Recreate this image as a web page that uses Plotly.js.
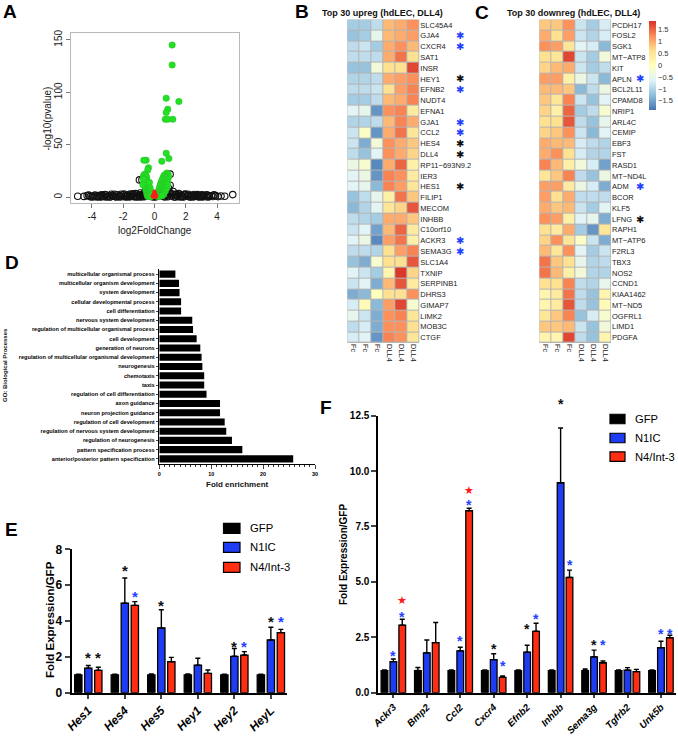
<!DOCTYPE html>
<html><head><meta charset="utf-8">
<script src="https://cdn.plot.ly/plotly-3.0.1.min.js"></script>
<style>html,body{margin:0;padding:0;background:#fff}</style>
</head><body><div id="chart" style="width:678px;height:736px"></div>
<script>
// ---------------- DATA ----------------
// Panel A: volcano plot
const volBlackX = [-4.9,-4.5,-4.3,-4.12,-3.95,-3.85,-3.7,-3.6,-3.5,-3.4,
  -3.3,-3.2,-3.1,-3.0,-2.9,-2.8,-2.7,-2.6,-2.5,-2.4,
  -2.3,-2.2,-2.1,-2.0,-1.9,-1.8,-1.7,-1.6,-1.5,-1.4,
  -1.3,-1.2,-1.1,-1.0,-0.9,-0.8,-0.7,-0.6,-0.5,-0.4,
  -0.3,-0.2,-0.1,0.0,0.1,0.2,0.3,0.4,0.5,0.6,
  0.7,0.8,0.9,1.0,1.1,1.2,1.3,1.4,1.5,1.6,
  1.7,1.8,1.9,2.0,2.1,2.2,2.3,2.4,2.5,2.6,
  2.7,2.8,2.9,3.0,3.1,3.2,3.3,3.4,3.5,3.62,
  3.74,3.9,4.06,4.25,4.49,5.0,-0.96,-0.8,1.0,-0.55,
  -3.65,-3.05,-2.45,-1.85,-1.25,-0.65,-0.15,0.15,0.65,1.25,
  1.85,2.45,3.05,-2.75,-2.15,-1.55,-0.95,0.35,0.95,1.55,
  2.15,2.75,3.35,-3.35,-0.45,0.45,-0.25,0.25,0.75,1.15,
  -4.0,-3.8,-3.45,-3.15,-2.85,-2.55,-2.25,-1.95,-1.65,-1.35,
  -1.05,-0.75,-0.35,-0.05,0.05,0.55,0.85,1.05,1.35,1.65,
  1.95,2.25,2.55,2.85,3.15,3.45,3.8,-4.2,-2.65,2.65,
  -1.75,-1.15,-0.85,1.75,2.35,2.95,-0.7,0.8,1.45,-1.45];
const volBlackY = [1.0,0.8,1.5,0.6,1.2,0.5,1.4,0.7,1.8,0.6,
  1.3,0.5,2.0,0.8,1.2,0.4,1.8,1.0,0.6,2.2,
  0.9,1.6,0.5,2.4,1.1,0.7,2.0,1.3,0.6,2.6,
  1.0,3.4,0.7,2.2,4.0,1.5,3.2,5.0,2.0,6.0,
  1.2,0.8,0.4,0.3,0.5,0.9,1.4,5.5,2.0,4.2,
  1.6,3.0,8.5,11.4,1.2,5.5,2.4,3.0,0.8,2.8,
  1.4,0.6,2.1,2.5,0.9,1.6,0.5,2.0,1.1,0.7,
  1.7,0.6,1.2,2.3,0.8,1.4,0.5,1.6,0.9,1.3,
  0.7,1.5,0.6,1.2,0.9,2.5,16.5,16.5,22.0,8.0,
  0.2,0.3,0.2,0.3,0.2,0.4,2.5,2.5,0.3,0.2,
  0.2,0.3,0.2,2.8,2.9,3.0,1.0,7.0,5.0,3.4,
  2.8,2.5,2.2,2.3,10.0,9.0,4.0,3.5,6.5,3.0,
  0.3,2.0,0.3,2.6,0.2,2.9,0.2,3.0,0.3,3.2,
  0.3,2.5,3.0,1.5,1.5,1.0,0.4,3.0,0.3,0.3,
  3.0,0.2,2.6,0.3,2.0,0.2,2.2,2.0,1.5,1.5,
  1.0,1.2,0.3,1.1,1.2,1.0,1.0,1.2,1.8,1.8];
const volGreenX = [1.13,1.13,0.75,1.56,0.85,0.75,0.69,0.85,1.17,0.75,0.92,0.47,-0.53,-0.68,-0.38,-0.43,
  -0.72,-0.68,-0.62,-0.55,-0.5,-0.66,-0.58,-0.48,-0.42,-0.62,-0.52,-0.45,-0.38,-0.6,-0.5,-0.42,-0.34,-0.55,-0.46,-0.38,-0.3,-0.5,-0.42,-0.34,-0.26,-0.46,-0.38,-0.3,-0.22,-0.18,-0.42,-0.34,-0.26,-0.7,-0.74,-0.32,-0.28,-0.24,-0.2,-0.16,
  0.72,0.8,0.88,0.62,0.78,0.9,0.56,0.7,0.84,0.5,0.64,0.78,0.45,0.58,0.72,0.4,0.52,0.66,0.36,0.48,0.6,0.32,0.44,0.56,0.28,0.4,0.5,0.24,0.34,0.46,0.2,0.3,0.4,0.16,0.26,0.36,0.13,0.22,0.32,0.85,0.8,0.7,0.6,0.5];
const volGreenY = [145,126,94.4,91.2,83.9,80.7,74.3,74.3,74.3,41.9,36.8,34.3,35.3,35.3,28.2,26,
  19,21,22,21,19,16,17,16,14,13,13,11,11,10,9,8,8,7,6,5.5,5,4,3.5,3,3,2,1.5,1.5,1.5,1,0.8,0.6,0.5,17,12,14,9,6,4,2.5,
  22,23,22,21,20,19,19,18,17,17,16,15,15,14,13,13,12,11,11,10,9,9,8,7,7,6,5,5,4.5,3.5,3.5,3,2.2,2.2,1.6,1.2,1.2,0.8,0.6,12,9,6,3,1.5];
const volRedX = [-0.1,-0.05,0,0.05,0.1,-0.08,0,0.08,-0.04,0.04,0,-0.12,0.12,0];
const volRedY = [0.5,1,0.5,1,0.5,2,2,2,3,3,4,1.2,1.2,5.5];

// Panel B / C: heatmaps
const heatCols = ['Fc','Fc','Fc','DLL4','DLL4','DLL4'];
const upGenes = ['SLC45A4','GJA4','CXCR4','SAT1','INSR','HEY1','EFNB2','NUDT4','EFNA1','GJA1','CCL2','HES4','DLL4','RP11\u2212693N9.2','IER3','HES1','FILIP1','MECOM','INHBB','C10orf10','ACKR3','SEMA3G','SLC1A4','TXNIP','SERPINB1','DHRS3','GIMAP7','LIMK2','MOB3C','CTGF'];
const upZ = [
 [-1.1,-1.1,-0.9,0.9,1.0,1.2],
 [-1.2,-1.1,-0.5,0.9,1.0,1.1],
 [-0.9,-0.8,-1.1,1.0,1.2,0.9],
 [-0.9,-0.9,-0.9,1.0,1.4,0.6],
 [-1.2,-1.2,-0.3,0.6,0.6,1.7],
 [-1.0,-1.0,-0.9,1.0,1.1,1.2],
 [-0.9,-0.9,-0.8,0.6,1.1,1.3],
 [-1.1,-1.1,-0.9,0.9,1.0,1.3],
 [-0.6,-0.5,-1.6,1.2,1.3,0.4],
 [-1.0,-1.0,-0.9,0.9,1.3,1.0],
 [-0.8,-0.1,-1.6,1.0,1.4,0.5],
 [-0.8,-1.4,-0.3,1.2,1.0,0.8],
 [-0.9,-1.2,-0.6,1.2,1.0,0.7],
 [-0.4,-0.2,-1.7,1.0,1.5,0.3],
 [-0.6,-0.4,-1.6,1.3,1.2,0.4],
 [-0.6,-0.5,-1.3,1.3,1.1,0.5],
 [-1.2,-0.9,-0.5,0.3,1.4,0.8],
 [-1.3,-1.0,-0.6,0.5,0.7,1.6],
 [-0.9,-1.0,-1.1,1.0,1.0,0.8],
 [-0.8,-0.6,-1.5,0.9,1.5,0.4],
 [-0.6,-0.4,-1.7,1.1,1.4,0.3],
 [-0.9,-0.9,-1.0,0.6,1.1,1.3],
 [-1.2,-1.4,-0.2,0.6,0.6,1.6],
 [-0.6,-0.8,-1.1,0.2,1.8,0.7],
 [-0.8,-0.6,-1.4,0.9,1.6,0.4],
 [-1.4,-1.3,0.0,0.6,0.6,1.2],
 [-0.7,0.1,-1.3,1.1,1.7,-0.2],
 [-0.5,-0.8,-1.4,1.2,1.3,0.5],
 [-0.9,-0.7,-1.4,1.2,1.2,0.6],
 [-0.7,-0.6,-1.6,1.3,1.2,0.5]];
const downGenes = ['PCDH17','FOSL2','SGK1','MT\u2212ATP8','KIT','APLN','BCL2L11','CPAMD8','NRIP1','ARL4C','CEMIP','EBF3','FST','RASD1','MT\u2212ND4L','ADM','BCOR','KLF5','LFNG','RAPH1','MT\u2212ATP6','F2RL3','TBX3','NOS2','CCND1','KIAA1462','MT\u2212ND5','OGFRL1','LIMD1','PDGFA'];
const downZ = [
 [0.8,0.8,1.2,-0.8,-1.1,-0.7],
 [1.0,0.6,1.1,-0.8,-1.0,-0.7],
 [1.2,1.1,0.5,-0.6,-0.7,-1.3],
 [0.6,0.5,1.7,-0.8,-1.1,-0.3],
 [0.7,0.9,1.0,-0.8,-1.1,-0.9],
 [1.1,1.1,0.3,-0.4,-0.8,-1.3],
 [0.9,0.9,0.8,-1.3,-0.9,-0.4],
 [0.8,0.5,1.3,-0.8,-1.2,-0.6],
 [0.7,0.3,1.5,-1.1,-0.9,-0.2],
 [0.6,0.6,1.6,-0.9,-1.2,-0.5],
 [0.7,0.8,1.2,-0.8,-1.3,-0.6],
 [1.0,0.9,0.9,-0.7,-0.9,-1.0],
 [1.0,1.2,0.6,-0.7,-1.0,-1.0],
 [1.3,0.9,0.3,-0.3,-0.7,-1.5],
 [0.5,0.8,1.3,-0.9,-1.2,-0.4],
 [1.1,1.1,0.4,-0.4,-0.7,-1.4],
 [1.1,0.6,1.0,-0.9,-0.9,-0.9],
 [1.0,0.8,0.9,-0.8,-1.1,-0.6],
 [1.2,1.1,0.3,-0.6,-0.5,-1.4],
 [0.6,0.4,1.0,-1.1,-1.6,0.5],
 [0.7,1.2,0.5,-0.1,-0.8,-1.4],
 [0.9,0.5,1.2,-0.6,-1.1,-0.8],
 [1.4,0.8,0.6,-0.5,-1.0,-0.9],
 [1.4,0.9,0.3,-0.3,-1.0,-1.0],
 [0.6,0.6,1.3,-0.9,-1.0,-0.5],
 [0.2,0.4,1.4,-0.9,-1.2,0.2],
 [0.2,0.4,1.6,-0.9,-1.2,0.1],
 [0.5,0.8,1.3,-1.2,-0.7,-0.2],
 [0.8,0.8,0.9,-0.8,-1.2,-0.3],
 [0.2,0.2,1.7,-0.9,-1.2,0.2]];
const upStarBlue = ['GJA4','CXCR4','EFNB2','GJA1','CCL2','ACKR3','SEMA3G'];
const upStarBlack = ['HEY1','HES4','DLL4','HES1'];
const downStarBlue = ['APLN','ADM'];
const downStarBlack = ['LFNG'];
const colorbarTicks = [-1.5,-1,-0.5,0,0.5,1,1.5];

// Panel D: GO enrichment
const goTerms = ['multicellular organismal process','multicellular organism development','system development','cellular developmental process','cell differentiation','nervous system development','regulation of multicellular organismal process','cell development','generation of neurons','regulation of multicellular organismal development','neurogenesis','chemotaxis','taxis','regulation of cell differentiation','axon guidance','neuron projection guidance','regulation of cell development','regulation of nervous system development','regulation of neurogenesis','pattern specification process','anterior/posterior pattern specification'];
const goFold = [3.1,3.8,3.9,4.2,4.2,6.35,6.5,7.2,7.9,8.15,8.3,8.65,8.65,9.1,11.7,11.7,12.6,12.9,14.0,16.0,25.8];

// Panel E
const genesE = ['Hes1','Hes4','Hes5','Hey1','Hey2','HeyL'];
const eGFP = [1,1,1,1,1,1];
const eGFPerr = [0.03,0.03,0.04,0.04,0.03,0.03];
const eN1IC = [1.37,4.99,3.61,1.54,2.03,2.94];
const eN1ICerr = [0.15,1.41,1.02,0.38,0.44,0.71];
const eN4 = [1.25,4.87,1.73,1.08,2.10,3.35];
const eN4err = [0.17,0.21,0.24,0.19,0.19,0.18];
const starsEgene = ['Hes1','Hes1','Hes4','Hes4','Hes5','Hey2','Hey2','HeyL','HeyL'];
const starsEseries = [1,2,1,2,1,1,2,1,2];
const starsEcolor = ['k','k','k','b','k','k','b','k','b'];
const starsEy = [2.16,2.16,7.03,5.58,5.08,2.81,2.81,4.19,4.19];

// Panel F
const genesF = ['Ackr3','Bmp2','Ccl2','Cxcr4','Efnb2','Inhbb','Sema3g','Tgfrb2','Unk5b'];
const fGFP = [1,1,1,1,1,1,1,1,1];
const fGFPerr = [0.03,0.14,0.03,0.03,0.03,0.03,0.07,0.03,0.03];
const fN1IC = [1.40,1.80,1.89,1.49,1.83,9.47,1.62,1.02,2.03];
const fN1ICerr = [0.12,0.58,0.16,0.27,0.31,2.47,0.30,0.11,0.29];
const fN4 = [3.05,2.26,8.21,0.69,2.77,5.20,1.35,0.95,2.48];
const fN4err = [0.26,0.91,0.11,0.06,0.36,0.33,0.08,0.10,0.11];
const starsFgene = ['Ackr3','Ackr3','Ackr3','Ccl2','Ccl2','Ccl2','Cxcr4','Cxcr4','Efnb2','Efnb2','Inhbb','Inhbb','Sema3g','Sema3g','Unk5b','Unk5b'];
const starsFseries = [1,2,2,1,2,2,1,2,1,2,1,2,1,2,1,2];
const starsFcolor = ['b','b','r','b','b','r','k','b','k','b','k','b','k','b','b','b'];
const starsFy = [1.82,3.61,4.14,2.50,8.65,9.14,2.15,1.40,3.05,3.50,13.2,5.95,2.35,2.35,2.83,2.83];
const seriesNames = ['GFP','N1IC','N4/Int-3'];

// ---------------- STYLE / LAYOUT ----------------
const W = 678, H = 736;
const FONT = 'Liberation Sans, Arial, Helvetica, sans-serif';
const px = v => v / W;
const py = v => 1 - v / H;
const dX = (a, b) => [a / W, b / W];
const dY = (top, bottom) => [1 - bottom / H, 1 - top / H];
const BLUE = '#1f3cf5', RED = '#ff2d12';
const starCol = {k: '#111', b: '#2340ff', r: '#ff1a1a'};
const seriesColors = ['#000000', BLUE, RED];
const E_RANGE = [0, 8], F_RANGE = [0, 12.5];

const traces = [];
// A
traces.push({type:'scatter', mode:'markers', x: volBlackX, y: volBlackY, xaxis:'x', yaxis:'y',
  marker:{symbol:'circle-open', size:6.5, color:'#111', line:{width:1.1}}});
traces.push({type:'scatter', mode:'markers', x: volGreenX, y: volGreenY, xaxis:'x', yaxis:'y',
  marker:{size:6.5, color:'#22e022', line:{width:0.4, color:'#2bb52b'}}});
traces.push({type:'scatter', mode:'markers', x: volRedX, y: volRedY, xaxis:'x', yaxis:'y',
  marker:{size:4, color:'#ff1a1a'}});

// B, C heatmaps
const cscale = [[0,'#4575B4'],[1/6,'#91BFDB'],[2/6,'#E0F3F8'],[3/6,'#FFFFBF'],[4/6,'#FEE090'],[5/6,'#FC8D59'],[1,'#D73027']];
const colIdx = heatCols.map((c,i)=>i);
traces.push({type:'heatmap', z: upZ, x: colIdx, y: upGenes.map((g,i)=>i), xaxis:'x2', yaxis:'y2',
  colorscale: cscale, zmin:-1.87, zmax:1.85, xgap:1, ygap:1, showscale:false});
traces.push({type:'heatmap', z: downZ, x: colIdx, y: downGenes.map((g,i)=>i), xaxis:'x3', yaxis:'y3',
  colorscale: cscale, zmin:-1.87, zmax:1.85, xgap:1, ygap:1, showscale:true,
  colorbar:{x: px(649), xanchor:'left', xpad:0, y: py(20.7), yanchor:'top', ypad:0,
    len:89, lenmode:'pixels', thickness:7, outlinewidth:0, ticks:'',
    tickvals: colorbarTicks, tickfont:{family:FONT, size:7.5, color:'#333'}, ticklabelposition:'outside'}});

// D
traces.push({type:'bar', orientation:'h', x: goFold, y: goTerms, xaxis:'x4', yaxis:'y4',
  width:0.78, marker:{color:'#000'}});

// E, F bars
function addBars(vals, errs, axx, axy, k, offs, width) {
  traces.push({type:'bar', x: vals.map((v,i)=>i), y: vals, xaxis: axx, yaxis: axy,
    offset: offs[k] - width/2, width: width,
    marker:{color: seriesColors[k], line:{color:'#000', width:1.3}},
    error_y:{type:'data', array: errs, arrayminus: errs.map(()=>0), symmetric:false,
      color:'#000', thickness:1.4, width:2.5}});
}
const offE = [-0.274, 0, 0.274], offF = [-0.266, 0, 0.266];
addBars(eGFP, eGFPerr, 'x5','y5', 0, offE, 0.2);
addBars(eN1IC, eN1ICerr, 'x5','y5', 1, offE, 0.2);
addBars(eN4, eN4err, 'x5','y5', 2, offE, 0.2);
addBars(fGFP, fGFPerr, 'x6','y6', 0, offF, 0.2);
addBars(fN1IC, fN1ICerr, 'x6','y6', 1, offF, 0.2);
addBars(fN4, fN4err, 'x6','y6', 2, offF, 0.2);

const ann = [];
const shapes = [];
function label(text, x, y, size, opts) {
  ann.push(Object.assign({xref:'paper', yref:'paper', x: px(x), y: py(y), text: text, showarrow:false,
    xanchor:'center', yanchor:'middle', font:{family:FONT, size:size, color:'#000'}}, opts||{}));
}
const boldF = (s, c) => ({family:FONT, size:s, weight:'bold', color:c||'#000'});
// panel letters
label('A', 10, 11, 19, {font:boldF(19)});
label('B', 302, 11, 19, {font:boldF(19)});
label('C', 482, 13, 19, {font:boldF(19)});
label('D', 12, 262, 19, {font:boldF(19)});
label('E', 11, 529, 19, {font:boldF(19)});
label('F', 326, 407, 19, {font:boldF(19)});
// A titles
label('log2FoldChange', 155, 230, 10, {font:{family:FONT,size:10,color:'#222'}});
label('-log10(pvalue)', 46.5, 119, 10, {textangle:-90, font:{family:FONT,size:10,color:'#222'}});
// heatmap titles
label('Top 30 upreg (hdLEC, DLL4)', 320, 13, 9, {xanchor:'left', font:boldF(9,'#111')});
label('Top 30 downreg (hdLEC, DLL4)', 505, 13, 9, {xanchor:'left', font:boldF(9,'#111')});
// heatmap stars
function hstar(list, genes, yref, xpx, col) {
  list.forEach(g => {
    const i = genes.indexOf(g);
    ann.push({xref:'paper', yref: yref, x: px(xpx), y: i, text:'\u2731', showarrow:false,
      xanchor:'center', yanchor:'middle', font:{family:'DejaVu Sans', size:10, color: col}});
  });
}
hstar(upStarBlue, upGenes, 'y2', 460, '#2340ff');
hstar(upStarBlack, upGenes, 'y2', 460, '#111');
hstar(downStarBlue, downGenes, 'y3', 640, '#2340ff');
hstar(downStarBlack, downGenes, 'y3', 640, '#111');
// heatmap cell borders
['2','3'].forEach(n => shapes.push({type:'rect', xref:'x'+n+' domain', yref:'y'+n+' domain', x0:0, x1:1, y0:0, y1:1,
  fillcolor:'#b4b4b4', line:{width:0}, layer:'below'}));
// D axis titles
label('GO: Biological Processes', 5, 365, 6, {textangle:-90, font:boldF(6,'#111')});
label('Fold enrichment', 237.5, 484, 8, {font:boldF(8,'#111')});
// E/F y titles
label('Fold Expression/GFP', 50, 620, 11.5, {textangle:-90, font:boldF(11.5)});
label('Fold Expression/GFP', 343, 555, 10, {textangle:-90, font:boldF(10)});
// legends
function legend(x0, ys, bw, bh, tx, size) {
  seriesNames.forEach((s, k) => {
    shapes.push({type:'rect', xref:'paper', yref:'paper', x0: px(x0), x1: px(x0+bw), y0: py(ys[k]+bh/2), y1: py(ys[k]-bh/2),
      fillcolor: seriesColors[k], line:{color:'#000', width:1.2}});
    label(s, tx, ys[k], size, {xanchor:'left', font:{family:FONT,size:size,color:'#000'}});
  });
}
legend(223.5, [528.3, 547.3, 567.3], 16.5, 10, 248, 11.3);
legend(610, [419, 438, 456.7], 15, 9.5, 633, 11.2);
// significance stars (placed in axis-domain units so they may sit above the axis top)
function stars(genes, gList, sList, cList, yList, off, ax, ay, yr, size) {
  gList.forEach((g, j) => {
    const i = genes.indexOf(g);
    const red = cList[j] === 'r';
    ann.push({xref: ax, yref: ay + ' domain', x: i + off[sList[j]], y: (yList[j] - yr[0]) / (yr[1] - yr[0]),
      text: red ? '\u2605' : '*',
      showarrow:false, xanchor:'center', yanchor:'middle', yshift: red ? 0 : -4,
      font:{family: red ? 'DejaVu Sans' : FONT, size: red ? size-3 : size, weight:'bold', color: starCol[cList[j]]}});
  });
}
stars(genesE, starsEgene, starsEseries, starsEcolor, starsEy, offE, 'x5', 'y5', E_RANGE, 15);
stars(genesF, starsFgene, starsFseries, starsFcolor, starsFy, offF, 'x6', 'y6', F_RANGE, 14);

const noGrid = {showgrid:false, zeroline:false};
const layout = {
  width: W, height: H, margin:{l:0,r:0,t:0,b:0}, paper_bgcolor:'#fff', plot_bgcolor:'rgba(0,0,0,0)',
  showlegend:false, barmode:'overlay', hovermode:false,
  font:{family:FONT, color:'#000'},
  // A
  xaxis: Object.assign({domain: dX(70.7,239), range:[-5.35,5.4], tickvals:[-4,-2,0,2,4], ticktext:['-4','-2','0','2','4'],
    showline:true, mirror:true, linecolor:'#b8b8b8', linewidth:1, ticks:'outside', ticklen:4, tickcolor:'#777',
    tickfont:{family:FONT,size:10,color:'#222'}, anchor:'y'}, noGrid),
  yaxis: Object.assign({domain: dY(33,203), range:[-5.5,156.5], tickvals:[0,50,100,150],
    showline:true, mirror:true, linecolor:'#b8b8b8', linewidth:1, ticks:'outside', ticklen:4, tickcolor:'#777',
    tickangle:-90, tickfont:{family:FONT,size:10,color:'#222'}, anchor:'x'}, noGrid),
  // B
  xaxis2: Object.assign({domain: dX(347.3,419.3), range:[-0.5,5.5], tickvals: colIdx, ticktext: heatCols, tickangle:90,
    ticks:'', showline:false, tickfont:{family:FONT,size:7.5,color:'#222'}, anchor:'y2'}, noGrid),
  yaxis2: Object.assign({domain: dY(19.6,343), range:[29.5,-0.5], tickvals: upGenes.map((g,i)=>i), ticktext: upGenes,
    side:'right', ticks:'', showline:false, tickfont:{family:FONT,size:7.5,color:'#222'}, anchor:'x2'}, noGrid),
  // C
  xaxis3: Object.assign({domain: dX(539.3,611), range:[-0.5,5.5], tickvals: colIdx, ticktext: heatCols, tickangle:90,
    ticks:'', showline:false, tickfont:{family:FONT,size:7.5,color:'#222'}, anchor:'y3'}, noGrid),
  yaxis3: Object.assign({domain: dY(19.6,343), range:[29.5,-0.5], tickvals: downGenes.map((g,i)=>i), ticktext: downGenes,
    side:'right', ticks:'', showline:false, tickfont:{family:FONT,size:7.5,color:'#222'}, anchor:'x3'}, noGrid),
  // D
  xaxis4: Object.assign({domain: dX(159.3,315), range:[0,30], dtick:10, tick0:0, showline:true, linecolor:'#000', linewidth:1.5,
    ticks:'outside', ticklen:4, tickwidth:1, tickfont:{family:FONT,size:5.5,weight:'bold'},
    minor:{dtick:1, ticks:'outside', ticklen:2, tickwidth:0.8, tickcolor:'#000'}, anchor:'y4'}, noGrid),
  yaxis4: Object.assign({domain: dY(269.4,463.6), type:'category', range:[goTerms.length-0.5,-0.5], showline:true, linecolor:'#000', linewidth:1,
    ticks:'outside', ticklen:2.5, tickwidth:1, tickfont:{family:FONT,size:5.6,weight:'bold'}, anchor:'x4'}, noGrid),
  // E
  xaxis5: Object.assign({domain: dX(71.7,287.3), range:[-0.455,5.45], tickvals: genesE.map((g,i)=>i), ticktext: genesE,
    tickangle:-45, showline:true, linecolor:'#000', linewidth:2, ticks:'outside', ticklen:4, tickwidth:2,
    tickfont:{family:FONT,size:12,weight:'bold',style:'italic'}, anchor:'y5'}, noGrid),
  yaxis5: Object.assign({domain: dY(549.3,692.7), range:E_RANGE, dtick:2, showline:true, linecolor:'#000', linewidth:2,
    ticks:'outside', ticklen:5, tickwidth:2, tickfont:{family:FONT,size:12,weight:'bold'}, anchor:'x5'}, noGrid),
  // F
  xaxis6: Object.assign({domain: dX(378.3,676), range:[-0.45,8.45], tickvals: genesF.map((g,i)=>i), ticktext: genesF,
    tickangle:-45, showline:true, linecolor:'#000', linewidth:2, ticks:'outside', ticklen:3, tickwidth:2,
    tickfont:{family:FONT,size:9.8,weight:'bold',style:'italic'}, anchor:'y6'}, noGrid),
  yaxis6: Object.assign({domain: dY(415.6,692.7), range:F_RANGE, dtick:2.5, tickformat:'.1f', showline:true, linecolor:'#000', linewidth:2,
    ticks:'outside', ticklen:5, tickwidth:2, tickfont:{family:FONT,size:10,weight:'bold'}, anchor:'x6'}, noGrid),
  annotations: ann,
  shapes: shapes
};
Plotly.newPlot('chart', traces, layout, {staticPlot:true, displayModeBar:false});
</script></body></html>
